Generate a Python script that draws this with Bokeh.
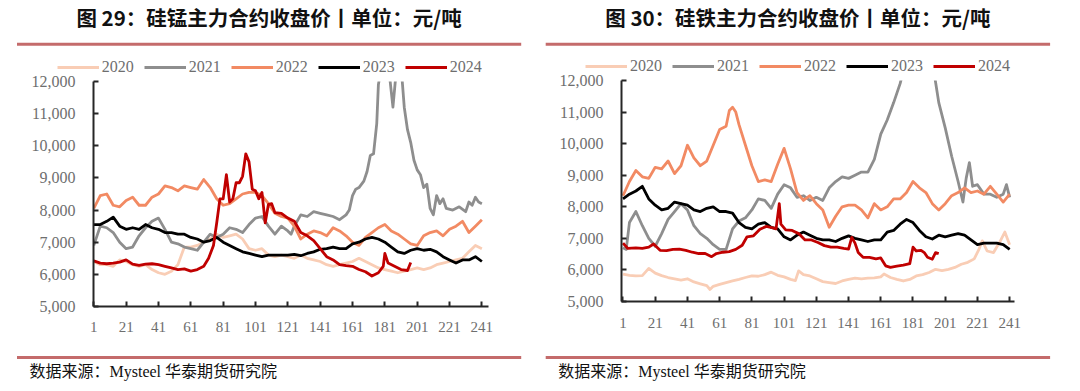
from bokeh.plotting import figure
from bokeh.models import (Range1d, FixedTicker, NumeralTickFormatter, Legend, LegendItem)
from bokeh.layouts import row, column
from bokeh.embed import file_html
from bokeh.resources import INLINE
from bokeh.core.properties import value

# ---------------- data ----------------
YEARS = ["2020", "2021", "2022", "2023", "2024"]
COLORS = ["#F9CDB5", "#8E8E8E", "#F28A63", "#000000", "#C00000"]
X_TICKS = [1, 21, 41, 61, 81, 101, 121, 141, 161, 181, 201, 221, 241]
Y_TICKS = [5000, 6000, 7000, 8000, 9000, 10000, 11000, 12000]

GRID4 = [1, 5, 9, 13, 17, 21, 25, 29, 33, 37, 41, 45, 49, 53, 57, 61, 65, 69, 73, 77,
         81, 85, 89, 93, 97, 101, 105, 109, 113, 117, 121, 125, 129, 133, 137, 141, 145,
         149, 153, 157, 161, 165, 169, 173, 177, 181, 185, 189, 193, 197, 201, 205, 209,
         213, 217, 221, 225, 229, 233, 237, 241]

# ---- 硅锰 (left) ----
simn_2020_days = GRID4
simn_2020 = [6400, 6300, 6300, 6250, 6450, 6400, 6300, 6250, 6300, 6150,
             6050, 6000, 6100, 6300, 6850, 6850, 6900, 7000, 7100, 7250,
             7150, 7200, 7250, 7100, 6800, 6750, 6800, 6600, 6550, 6600,
             6550, 6500, 6600, 6500, 6450, 6400, 6300, 6250, 6300, 6350,
             6400, 6500, 6400, 6300, 6200, 6150, 6100, 6050, 6100, 6150,
             6200, 6150, 6200, 6300, 6350, 6400, 6450, 6500, 6700, 6900,
             6800]

simn_2021_days = [1, 5, 9, 13, 17, 21, 25, 29, 33, 37, 41, 45, 49, 53, 57, 61, 65, 69, 73, 77,
                  81, 85, 89, 93, 97, 101, 105, 109, 113, 117, 121, 123, 125, 129, 133, 137,
                  141, 145, 149, 153, 157, 159, 161, 163, 165, 168, 170, 172, 174, 176, 177,
                  179, 183, 186, 188, 191, 193, 195, 197, 199, 201, 203, 205, 207, 209, 211,
                  213, 215, 217, 219, 223, 227, 231, 233, 235, 237, 239, 241]
simn_2021 = [6900, 7500, 7450, 7300, 7000, 6800, 6850, 7200, 7450, 7650,
             7750, 7400, 7000, 6950, 6850, 6800, 6750, 7000, 7250, 7150,
             7250, 7450, 7400, 7300, 7550, 7750, 7800, 7500, 7250, 7500,
             7350, 7250, 7500, 7850, 7800, 7950, 7900, 7850, 7800, 7700,
             7850, 8000, 8450, 8650, 8700, 8900, 9200, 9700, 9750, 10700,
             11900, 12500, 12600, 11200, 12300, 12500, 11200, 10500, 10100, 9550,
             9250, 9100, 8700, 8800, 8050, 7850, 8450, 8200, 8350, 8050,
             8000, 8100, 7950, 8250, 8150, 8400, 8250, 8200]

simn_2022_days = GRID4
simn_2022 = [8050, 8450, 8500, 8150, 8100, 8300, 8400, 8150, 8150, 8400,
             8500, 8750, 8700, 8600, 8750, 8700, 8650, 8950, 8700, 8350,
             8150, 8200, 8350, 8500, 8550, 8550, 8450, 8200, 7900, 7800,
             7750, 7500, 7100, 7250, 7350, 7300, 7200, 7450, 7350, 7200,
             7000, 6900, 7150, 7300, 7450, 7550, 7350, 7250, 7100, 6950,
             6900, 7200, 7300, 7350, 7200, 7400, 7500, 7650, 7300, 7500,
             7700]

simn_2023_days = GRID4
simn_2023 = [7550, 7550, 7650, 7780, 7500, 7400, 7450, 7400, 7550, 7450,
             7400, 7300, 7300, 7250, 7250, 7150, 7100, 7000, 7050, 7150,
             7000, 6900, 6800, 6700, 6650, 6600, 6550, 6600, 6600, 6600,
             6600, 6620, 6580, 6650, 6700, 6780, 6800, 6850, 6800, 6800,
             6950, 7000, 7100, 7150, 7100, 7000, 6850, 6700, 6650, 6750,
             6800, 6750, 6780, 6700, 6550, 6450, 6350, 6450, 6450, 6550,
             6400]

simn_2024_days = [1, 5, 9, 13, 17, 21, 25, 29, 33, 37, 41, 45, 49, 53, 57, 61, 65, 69,
                  72, 75, 77, 79, 81, 83, 85, 87, 89, 91, 93, 95, 97, 99, 101, 103, 105,
                  107, 109, 111, 113, 117, 121, 125, 129, 133, 137, 141, 145, 149, 153,
                  157, 161, 165, 169, 173, 177, 180, 181, 183, 187, 191, 195, 197]
simn_2024 = [6420, 6350, 6330, 6350, 6380, 6450, 6320, 6280, 6320, 6330,
             6300, 6250, 6200, 6150, 6170, 6100, 6150, 6250,
             6500, 6900, 7600, 8350, 8350, 9100, 8250, 8350, 8850, 8850, 9050, 9750,
             9500, 8650, 8600, 8350, 8550, 7600, 8180, 8200, 7920,
             7900, 7750, 7650, 7300, 7200, 7050, 6800, 6550, 6450, 6300, 6270,
             6250, 6150, 6080, 5950, 6050,
             6250, 6650, 6350, 6250, 6150, 6120, 6370]

# ---- 硅铁 (right) ----
sife_2020_days = [1, 5, 9, 13, 17, 21, 25, 29, 33, 37, 41, 45, 49, 53, 55, 57, 61, 65, 69,
                  73, 77, 81, 85, 89, 93, 97, 101, 105, 108, 110, 113, 117, 121, 125, 129,
                  133, 137, 141, 145, 149, 153, 157, 161, 163, 167, 171, 175, 179, 183, 187,
                  191, 195, 199, 203, 207, 211, 215, 219, 222, 224, 227, 231, 235, 238, 241]
sife_2020 = [5870, 5830, 5810, 5820, 6050, 5900, 5820, 5760, 5720, 5680,
             5720, 5620, 5560, 5500, 5380, 5480, 5540, 5600, 5650, 5700,
             5760, 5810, 5800, 5850, 5930, 5830, 5780, 5700, 5660, 5970,
             5850, 5810, 5720, 5630, 5600, 5570, 5650, 5700, 5740, 5720,
             5740, 5750, 5780, 5870, 5760, 5700, 5650, 5700, 5810, 5850,
             5920, 6020, 5980, 6020, 6080, 6180, 6240, 6350, 6660, 6920,
             6600, 6550, 6900, 7200, 6800]

sife_2021_days = [1, 3, 5, 9, 13, 17, 21, 25, 29, 33, 37, 41, 45, 49, 53, 57, 61, 65, 69,
                  73, 77, 81, 85, 89, 93, 97, 101, 105, 109, 113, 117, 121, 125, 129, 133,
                  137, 141, 145, 149, 153, 157, 161, 165, 169, 173, 177, 181, 185, 189, 193,
                  197, 201, 205, 209, 212, 214, 216, 218, 221, 225, 229, 233, 237, 239, 241]
sife_2021 = [6700, 6650, 7500, 7850, 7400, 7000, 6750, 7150, 7600, 7850,
             8100, 7900, 7400, 7150, 7000, 6800, 6650, 6650, 7300, 7550,
             7650, 7900, 8250, 8200, 7950, 8400, 8700, 8600, 8300, 8350,
             8200, 8300, 8200, 8600, 8800, 8950, 8900, 9000, 9100, 9100,
             9500, 10300, 10750, 11300, 11900, 12700, 13200, 13500, 13200, 12600,
             11300, 10500, 9600, 8800, 8150, 8900, 9400, 8650, 8700, 8400,
             8400, 8300, 8400, 8700, 8300]

sife_2022_days = [1, 5, 9, 13, 17, 21, 25, 29, 33, 37, 41, 45, 49, 53, 57, 61, 65, 67, 69,
                  71, 73, 77, 81, 85, 89, 93, 97, 101, 105, 109, 113, 117, 121, 125, 129,
                  133, 137, 141, 145, 149, 153, 157, 161, 165, 169, 173, 177, 181, 185, 189,
                  193, 197, 201, 205, 209, 213, 217, 221, 225, 229, 233, 237, 241]
sife_2022 = [8350, 8800, 9150, 8950, 8900, 9250, 9200, 9450, 9050, 9300,
             9950, 9550, 9300, 9450, 9950, 10450, 10550, 11050, 11150, 11000,
             10600, 9950, 9300, 8800, 8850, 8800, 9350, 9850, 9200, 8450,
             8200, 8350, 8100, 7900, 7350, 7700, 8000, 8050, 8050, 7900,
             7650, 8100, 7900, 8000, 8250, 8250, 8450, 8800, 8600, 8450,
             8100, 7900, 8100, 8350, 8450, 8600, 8450, 8500, 8400, 8650,
             8400, 8150, 8400]

sife_2023_days = GRID4
sife_2023 = [8250, 8400, 8500, 8650, 8250, 8050, 7900, 7950, 8150, 8100,
             8050, 7900, 7850, 7950, 8000, 7850, 7850, 7800, 7500, 7350,
             7300, 7450, 7500, 7350, 7300, 7050, 6950, 7100, 7200, 7100,
             7000, 6950, 6950, 6900, 7000, 7080, 7000, 6950, 6900, 6950,
             6950, 7200, 7250, 7450, 7600, 7500, 7250, 7050, 6980, 7100,
             7050, 7100, 7150, 7100, 6950, 6800, 6850, 6850, 6850, 6800,
             6650]

sife_2024_days = [1, 4, 9, 13, 17, 20, 24, 28, 32, 36, 40, 44, 48, 52, 56, 59, 63, 67, 71,
                  75, 78, 82, 86, 90, 94, 96, 98, 99, 102, 106, 110, 114, 118, 122, 126,
                  130, 134, 138, 141, 143, 145, 147, 150, 154, 158, 161, 164, 167, 171,
                  175, 179, 181, 183, 186, 188, 190, 193, 195, 197]
sife_2024 = [6850, 6680, 6700, 6680, 6720, 6820, 6620, 6610, 6650, 6660,
             6620, 6560, 6520, 6520, 6420, 6520, 6560, 6580, 6650, 6780,
             7050, 7080, 7290, 7380, 7330, 7300, 8100, 7450, 7270, 7250,
             7150, 6950, 6950, 6870, 6770, 6720, 6720, 6680, 6660, 7030,
             6850, 6550, 6400, 6400, 6350, 6380, 6130, 6080, 6120, 6150,
             6200, 6720, 6600, 6620, 6550, 6400, 6340, 6550, 6520]

LEFT_TITLE = "图 29：硅锰主力合约收盘价丨单位：元/吨"
RIGHT_TITLE = "图 30：硅铁主力合约收盘价丨单位：元/吨"
SOURCE = "数据来源：Mysteel 华泰期货研究院"

LABEL_COLOR = "#6E6E6E"
RULE_COLOR = "#C46B6B"
SERIF = "Liberation Serif"
MIXED = "Liberation Serif, Noto Sans CJK SC"

MAIN_BOTTOM = 345   # page y where the footer starts
FOOT_H = 38


def blank(width, height):
    f = figure(width=width, height=height, x_range=Range1d(0, width),
               y_range=Range1d(height, 0), x_axis_type=None, y_axis_type=None,
               output_backend="svg", toolbar_location=None, frame_align=False,
               min_border_left=0, min_border_right=0, min_border_top=0, min_border_bottom=0)
    f.outline_line_color = None
    f.grid.visible = False
    return f


def make_header(width, head_h, title, title_cx, rule_x0, rule_x1, leg_x, leg_cy):
    h = blank(width, head_h)
    h.text(x=[title_cx], y=[16], text=[title], text_font=value("Noto Sans CJK SC"),
           text_font_size="20.5px", text_font_style="bold", text_color="#111111",
           text_align="center", text_baseline="middle")
    h.quad(left=[rule_x0], right=[rule_x1], top=[42.2], bottom=[45.2],
           fill_color=RULE_COLOR, line_color=None)
    items = []
    for yr, col in zip(YEARS, COLORS):
        # legend key only: its two points lie outside the visible header area
        r = h.line(x=[-50, -40], y=[-50, -50], line_color=col, line_width=3)
        items.append(LegendItem(label=yr, renderers=[r]))
    legend = Legend(items=items, orientation="horizontal",
                    location=(leg_x, head_h - (leg_cy + 10)),
                    border_line_color=None, background_fill_alpha=0, padding=0, margin=0,
                    spacing=10, glyph_width=42, glyph_height=20, label_height=20,
                    label_standoff=3, label_text_font=SERIF, label_text_font_size="16px",
                    label_text_color=LABEL_COLOR, label_text_baseline="middle")
    h.add_layout(legend)
    return h


def make_footer(width, rule_x0, rule_x1, src_x):
    f = blank(width, FOOT_H)
    f.quad(left=[rule_x0], right=[rule_x1], top=[10.5], bottom=[13.5],
           fill_color=RULE_COLOR, line_color=None)
    f.text(x=[src_x], y=[26], text=[SOURCE], text_font=value(MIXED),
           text_font_size="16px", text_color="#111111",
           text_align="left", text_baseline="middle")
    return f


def make_main(width, head_h, series, bl, br, frame_top, frame_bottom, xs, xe, x_standoff):
    main_h = MAIN_BOTTOM - head_h
    p = figure(width=width, height=main_h, x_range=Range1d(xs, xe),
               y_range=Range1d(5000, 12000), output_backend="svg", toolbar_location=None,
               frame_align=False,
               min_border_left=bl, min_border_right=br, min_border_top=frame_top - head_h,
               min_border_bottom=MAIN_BOTTOM - frame_bottom)
    p.outline_line_color = None
    p.xgrid.visible = False
    p.ygrid.visible = False
    for (days, vals), col in zip(series, COLORS):
        p.line(days, vals, line_color=col, line_width=2.8, line_join="round")
    for ax in (p.xaxis[0], p.yaxis[0]):
        ax.axis_line_color = "#262626"
        ax.axis_line_width = 2
        ax.major_tick_line_color = "#262626"
        ax.major_tick_line_width = 2
        ax.major_tick_in = 5
        ax.major_tick_out = 0
        ax.minor_tick_in = 0
        ax.minor_tick_out = 0
        ax.major_label_text_font = SERIF
        ax.major_label_text_color = LABEL_COLOR
    p.xaxis.ticker = FixedTicker(ticks=X_TICKS)
    p.xaxis.major_label_text_font_size = "15px"
    p.xaxis.major_label_standoff = x_standoff
    p.yaxis.ticker = FixedTicker(ticks=Y_TICKS)
    p.yaxis.formatter = NumeralTickFormatter(format="0,0")
    p.yaxis.major_label_text_font_size = "16px"
    p.yaxis.major_label_standoff = 18
    return p


left_series = [(simn_2020_days, simn_2020), (simn_2021_days, simn_2021),
               (simn_2022_days, simn_2022), (simn_2023_days, simn_2023),
               (simn_2024_days, simn_2024)]
right_series = [(sife_2020_days, sife_2020), (sife_2021_days, sife_2021),
                (sife_2022_days, sife_2022), (sife_2023_days, sife_2023),
                (sife_2024_days, sife_2024)]

LW, RW = 540, 532
LH, RH = 74, 73
left_col = column(
    make_header(LW, LH, LEFT_TITLE, 268.6, 16.5, 520.7, 56.7, 67.0),
    make_main(LW, LH, left_series, 93, 52, 81, 306, 0.81, 245.1, 15),
    make_footer(LW, 16.5, 520.7, 29),
    spacing=0)
right_col = column(
    make_header(RW, RH, RIGHT_TITLE, 797.4 - LW, 545.2 - LW, 1049.6 - LW, 585 - LW, 65.5),
    make_main(RW, RH, right_series, 81, 58, 80, 301, 0.07, 244.0, 16),
    make_footer(RW, 545.2 - LW, 1049.6 - LW, 557.7 - LW),
    spacing=0)

layout = row(left_col, right_col, spacing=0)
open("out.html", "w").write(file_html(layout, INLINE))
